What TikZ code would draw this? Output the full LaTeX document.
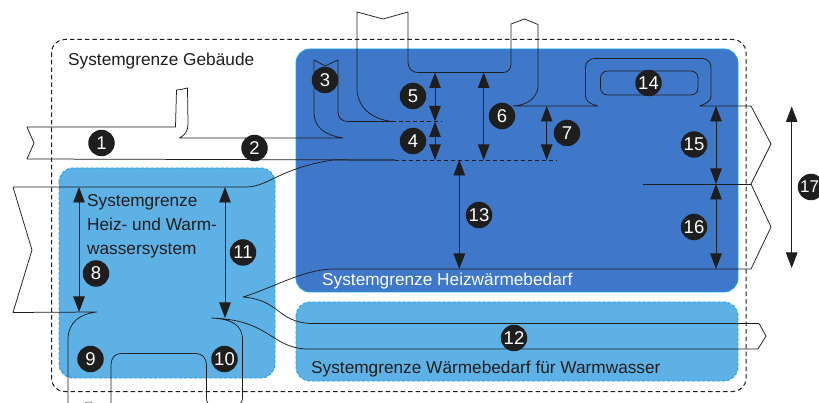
\documentclass[tikz,border=0pt]{standalone}
\usepackage{fontspec}
\setmainfont{Liberation Sans}
\usetikzlibrary{arrows.meta}
\definecolor{deepblue}{HTML}{3F78C8}
\definecolor{lightblue}{HTML}{5EB1E4}
\definecolor{edgeblue}{HTML}{1AA3E8}
\definecolor{inkdark}{HTML}{1F1E1F}
\tikzset{
  x=1pt,y=-1pt,
  flow/.style={draw=inkdark,line width=0.75pt,line join=round},
  bound/.style={draw=edgeblue,line width=0.9pt},
  dashedbound/.style={bound,dash pattern=on 3pt off 2pt},
  outer/.style={draw=inkdark,line width=1pt,dash pattern=on 4.5pt off 3pt},
  dim/.style={draw=inkdark,line width=0.9pt,{Stealth[length=15.5pt,width=11.5pt,inset=0pt]}-{Stealth[length=15.5pt,width=11.5pt,inset=0pt]},shorten >=0pt,shorten <=0pt},
  dotline/.style={draw=inkdark,line width=0.8pt,dash pattern=on 4pt off 3pt},
  badge/.style={circle,fill=inkdark,text=white,minimum size=26.5pt,inner sep=0pt,font=\fontsize{18.5}{19}\selectfont},
  lab/.style={anchor=base west,inner sep=0pt,text=inkdark,font=\fontsize{17.25}{20}\selectfont},
}
\begin{document}
\begin{tikzpicture}
\useasboundingbox (0,0) rectangle (819,403);
\clip (0,0) rectangle (819,403);
\fill[white] (0,0) rectangle (819,403);
% regions
\draw[bound,fill=deepblue,rounded corners=14pt] (296,49) rectangle (738,292);
\draw[dashedbound,fill=lightblue,rounded corners=14pt] (59,168) rectangle (275,378);
\draw[dashedbound,fill=lightblue,rounded corners=14pt] (296,302) rectangle (738,381);
\draw[outer,rounded corners=13pt] (51.5,39.5) rectangle (746,391.5);
% flow 1 with 2, 3
\draw[flow] (27,159) -- (34,143) -- (27,127) -- (175.5,127) -- (176.5,90) -- (181,89.5) -- (187.5,88) -- (188,124) .. controls (188,131) and (185,135) .. (179.5,138) -- (343,138) .. controls (325,135) and (314,128) .. (314,112) -- (314,60) -- (325,66) -- (338,60) -- (338,112) .. controls (338,118) and (342,121.5) .. (348,121.5) -- (392,121.5);
\draw[flow] (27,159) -- (395,160);
\draw[flow] (13,187) -- (246,187) .. controls (268,187) and (280,168) .. (333,160) -- (395,160);
\draw[flow] (13,187) -- (32,250) -- (13,312.5) -- (96.5,312) .. controls (80,314) and (68,322) .. (68,340) -- (68,404);
% flow 5/6
\draw[flow] (392,121.5) .. controls (370,119) and (357,106) .. (357,88) -- (357,12) -- (383,19) -- (408,12) -- (408,62) .. controls (408,69) and (412,72.5) .. (418,72.5) -- (503,72.5) .. controls (508,72.5) and (511,69) .. (511,64) -- (511,24) -- (524.5,19) -- (538,24.5) -- (538,88) .. controls (536,99) and (526,105.5) .. (513,106) -- (598,106) .. controls (590,104) and (585.5,101) .. (585.5,96) -- (585.5,67) .. controls (585.5,62) and (590,58.5) .. (595,58.5) -- (702,58.5) .. controls (707,58.5) and (711,62) .. (711,67) -- (711,96) .. controls (711,101) and (706,104) .. (699.5,106) -- (751,106) -- (771,144) -- (751,184) -- (771,227) -- (751,269) -- (331,269) .. controls (300,271) and (275,287) .. (243,297) .. controls (280,300) and (277,322) .. (311,323.5) -- (759,323.5) -- (766,336) -- (758,349) -- (306,349) .. controls (270,347) and (270,320) .. (211.5,318) .. controls (232,319) and (242.5,325) .. (242.5,340) -- (242.5,398) .. controls (242.5,402) and (240,405) .. (236,405) -- (212,405) .. controls (208,405) and (206.5,402) .. (206.5,398) -- (206.5,365) .. controls (206.5,358) and (202,353.5) .. (196,353.5) -- (121,353.5) .. controls (115,353.5) and (111,358) .. (111,365) -- (111,404);
\draw[flow] (643,184) -- (751,184);
\draw[flow,rounded corners=7pt] (600.5,71) rectangle (698,95);
% cut-off shape at the lower edge
\draw[draw=gray,line width=0.7pt] (84.5,403.5) .. controls (86,401.5) and (91,401.5) .. (93,403.5);
% dotted levels
\coordinate (d1s) at (392,121.5); \coordinate (d1e) at (442,121.5);
\coordinate (d2s) at (395,160); \coordinate (d2e) at (557,160);
\draw[dotline] (d1s) -- (d1e);
\draw[dotline] (d2s) -- (d2e);
% dimension arrows
\coordinate (a5t) at (435,72.5); \coordinate (a5b) at (435,121.5); \coordinate (a4b) at (435,160);
\coordinate (a6t) at (483.7,72.5); \coordinate (a6b) at (483.7,160);
\coordinate (a7t) at (546.7,106); \coordinate (a7b) at (546.7,160);
\coordinate (a13t) at (459.3,160); \coordinate (a13b) at (459.3,269);
\coordinate (a15t) at (716,106); \coordinate (a15b) at (716,184); \coordinate (a16b) at (716,269);
\coordinate (a17t) at (791.7,106.5); \coordinate (a17b) at (791.7,268);
\coordinate (a8t) at (79,187); \coordinate (a8b) at (79,312);
\coordinate (a11t) at (225,187); \coordinate (a11b) at (225,318);
\draw[dim] (a5t) -- (a5b);
\draw[dim] (a5b) -- (a4b);
\draw[dim] (a6t) -- (a6b);
\draw[dim] (a7t) -- (a7b);
\draw[dim] (a13t) -- (a13b);
\draw[dim] (a15t) -- (a15b);
\draw[dim] (a15b) -- (a16b);
\draw[dim] (a17t) -- (a17b);
\draw[dim] (a8t) -- (a8b);
\draw[dim] (a11t) -- (a11b);
% badges
\node[badge] (n1) at (101.5,143) {1};
\node[badge] (n2) at (254.5,148) {2};
\node[badge] (n3) at (325,80) {3};
\node[badge] (n4) at (413,141) {4};
\node[badge] (n5) at (413,96) {5};
\node[badge] (n6) at (502,116) {6};
\node[badge] (n7) at (567,133) {7};
\node[badge] (n8) at (96,273.5) {8};
\node[badge] (n9) at (90.5,359) {9};
\node[badge] (n10) at (224.5,359) {10};
\node[badge] (n11) at (243,252.5) {11};
\node[badge] (n12) at (514,338) {12};
\node[badge] (n13) at (479,215) {13};
\node[badge] (n14) at (648.5,83) {14};
\node[badge] (n15) at (694,144.5) {15};
\node[badge] (n16) at (694,227) {16};
\node[badge,font=\fontsize{17}{18}\selectfont] (n17) at (811,187) {17\kern3pt};
% labels
\node[lab] (t1) at (68,66) {Systemgrenze Gebäude};
\node[lab] (t2) at (87,207) {Systemgrenze};
\node[lab] (t3) at (87,231) {Heiz- und Warm-};
\node[lab] (t4) at (87,254.5) {wassersystem};
\node[lab,text=white] (t5) at (322,286) {Systemgrenze Heizwärmebedarf};
\node[lab] (t6) at (311,373.5) {Systemgrenze Wärmebedarf für Warmwasser};
\end{tikzpicture}
\end{document}
